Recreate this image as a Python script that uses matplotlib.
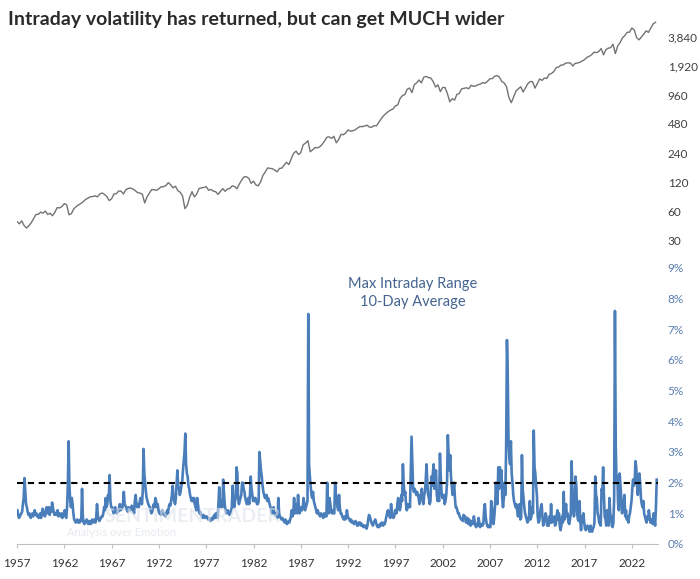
import numpy as np
import matplotlib
matplotlib.use("Agg")
import matplotlib.pyplot as plt

plt.rcParams['font.family'] = ['Lato', 'DejaVu Sans']

title = "Intraday volatility has returned, but can get MUCH wider"

# S&P 500 quarter-end closes, starting with Dec 1956 close
sp500 = [
    46.7,
    44.1, 47.4, 42.4, 40.0,      # 1957
    42.1, 45.2, 50.0, 55.2,      # 1958
    55.4, 58.5, 56.9, 59.9,      # 1959
    55.3, 56.9, 53.5, 58.1,      # 1960
    65.1, 64.6, 66.7, 71.6,      # 1961
    69.6, 54.8, 56.3, 63.1,      # 1962
    66.6, 69.4, 71.7, 75.0,      # 1963
    79.0, 81.7, 84.2, 84.8,      # 1964
    86.2, 84.1, 90.0, 92.4,      # 1965
    89.2, 84.7, 77.0, 80.3,      # 1966
    90.2, 90.6, 96.7, 96.5,      # 1967
    90.2, 99.6, 102.7, 103.9,    # 1968
    101.5, 97.7, 93.1, 92.1,     # 1969
    89.6, 72.7, 84.3, 92.2,      # 1970
    100.3, 99.7, 98.3, 102.1,    # 1971
    107.2, 107.1, 110.6, 118.1,  # 1972
    112.0, 104.3, 108.4, 97.6,   # 1973
    94.0, 86.0, 63.5, 68.6,      # 1974
    83.4, 95.2, 83.9, 90.2,      # 1975
    102.8, 104.3, 105.2, 107.5,  # 1976
    98.4, 100.5, 96.5, 95.1,     # 1977
    89.2, 95.5, 102.5, 96.1,     # 1978
    101.6, 102.9, 109.3, 107.9,  # 1979
    102.1, 114.2, 125.5, 135.8,  # 1980
    136.0, 131.2, 116.2, 122.6,  # 1981
    112.0, 109.6, 120.4, 140.6,  # 1982
    153.0, 168.1, 166.1, 164.9,  # 1983
    159.2, 153.2, 166.1, 167.2,  # 1984
    180.7, 191.9, 182.1, 211.3,  # 1985
    238.9, 250.8, 231.3, 242.2,  # 1986
    291.7, 304.0, 321.8, 247.1,  # 1987
    258.9, 273.5, 271.9, 277.7,  # 1988
    294.9, 318.0, 349.2, 353.4,  # 1989
    339.9, 358.0, 306.1, 330.2,  # 1990
    375.2, 371.2, 387.9, 417.1,  # 1991
    403.7, 408.1, 417.8, 435.7,  # 1992
    451.7, 450.5, 458.9, 466.5,  # 1993
    445.8, 444.3, 462.7, 459.3,  # 1994
    500.7, 544.8, 584.4, 615.9,  # 1995
    645.5, 670.6, 687.3, 740.7,  # 1996
    757.1, 885.1, 947.3, 970.4,  # 1997
    1101.8, 1133.8, 1017.0, 1229.2,  # 1998
    1286.4, 1372.7, 1282.7, 1469.3,  # 1999
    1498.6, 1454.6, 1436.5, 1320.3,  # 2000
    1160.3, 1224.4, 1040.9, 1148.1,  # 2001
    1147.4, 989.8, 815.3, 879.8,     # 2002
    848.2, 974.5, 996.0, 1111.9,     # 2003
    1126.2, 1140.8, 1114.6, 1211.9,  # 2004
    1180.6, 1191.3, 1228.8, 1248.3,  # 2005
    1294.8, 1270.2, 1335.9, 1418.3,  # 2006
    1420.9, 1503.4, 1526.8, 1468.4,  # 2007
    1322.7, 1280.0, 1166.4, 903.3,   # 2008
    797.9, 919.3, 1057.1, 1115.1,    # 2009
    1169.4, 1030.7, 1141.2, 1257.6,  # 2010
    1325.8, 1320.6, 1131.4, 1257.6,  # 2011
    1408.5, 1362.2, 1440.7, 1426.2,  # 2012
    1569.2, 1606.3, 1681.6, 1848.4,  # 2013
    1872.3, 1960.2, 1972.3, 2058.9,  # 2014
    2067.9, 2063.1, 1920.0, 2043.9,  # 2015
    2059.7, 2098.9, 2168.3, 2238.8,  # 2016
    2362.7, 2423.4, 2519.4, 2673.6,  # 2017
    2640.9, 2718.4, 2914.0, 2506.9,  # 2018
    2834.4, 2941.8, 2976.7, 3230.8,  # 2019
    2584.6, 3100.3, 3363.0, 3756.1,  # 2020
    3972.9, 4297.5, 4307.5, 4766.2,  # 2021
    4530.4, 3785.4, 3585.6, 3839.5,  # 2022
    4109.3, 4450.4, 4288.1, 4769.8,  # 2023
    5254.4, 5460.5,                  # 2024
]
sp_start_year = 1957

# Max intraday range, 10-day average (%), monthly readings
vol_start_year = 1957
vol = [
    1.1, 0.95, 0.85, 0.9, 0.95, 1.0, 1.05, 1.3, 1.5, 2.15, 1.7, 1.3,   # 1957
    1.2, 1.05, 0.95, 1.0, 0.9, 0.85, 0.95, 1.0, 0.9, 0.95, 1.1, 0.95,  # 1958
    1.0, 0.9, 0.95, 0.85, 0.9, 1.0, 0.85, 1.0, 1.15, 0.95, 1.0, 0.9,   # 1959
    1.1, 1.2, 1.0, 1.05, 1.2, 0.95, 1.15, 1.05, 1.35, 1.2, 1.05, 0.95, # 1960
    1.0, 0.95, 1.05, 1.1, 0.9, 1.0, 0.95, 0.9, 1.0, 0.85, 0.95, 1.0,   # 1961
    1.1, 0.9, 0.85, 1.2, 1.9, 3.35, 1.9, 1.4, 1.2, 1.5, 1.3, 1.0,      # 1962
    0.8, 0.75, 0.7, 0.75, 0.8, 0.7, 0.75, 0.7, 0.8, 0.75, 1.8, 0.9,    # 1963
    0.7, 0.65, 0.7, 0.75, 0.8, 0.7, 0.65, 0.75, 0.7, 0.65, 0.75, 0.8,  # 1964
    0.7, 0.75, 0.8, 0.7, 0.85, 1.3, 0.95, 0.8, 0.75, 0.8, 0.85, 0.9,   # 1965
    0.9, 1.0, 1.2, 1.1, 1.5, 1.2, 1.3, 1.6, 1.5, 2.25, 1.4, 1.2,       # 1966
    1.2, 1.1, 1.0, 1.1, 1.2, 1.05, 1.0, 1.1, 1.05, 1.2, 1.3, 1.1,      # 1967
    1.2, 1.15, 1.35, 1.7, 1.3, 1.25, 1.2, 1.1, 1.05, 1.2, 1.15, 1.1,   # 1968
    1.1, 1.25, 1.2, 1.1, 1.0, 1.4, 1.6, 1.3, 1.2, 1.3, 1.2, 1.35,      # 1969
    1.5, 1.4, 1.3, 1.7, 3.1, 2.3, 2.0, 1.7, 1.5, 1.4, 1.3, 1.25,       # 1970
    1.2, 1.1, 1.0, 1.05, 1.2, 1.3, 1.2, 1.5, 1.4, 1.2, 1.3, 1.1,       # 1971
    1.0, 1.05, 0.95, 1.0, 1.1, 1.0, 0.95, 1.0, 0.9, 1.0, 1.1, 1.0,     # 1972
    1.2, 1.3, 1.25, 1.4, 1.6, 1.9, 1.5, 1.4, 1.3, 1.5, 2.0, 2.4,       # 1973
    1.9, 1.8, 1.6, 1.7, 1.9, 2.0, 2.4, 2.7, 3.0, 3.6, 2.6, 2.3,        # 1974
    2.2, 1.9, 1.8, 1.6, 1.5, 1.4, 1.5, 1.4, 1.5, 1.3, 1.2, 1.1,        # 1975
    1.5, 1.3, 1.1, 1.0, 1.05, 0.95, 0.9, 0.85, 0.95, 0.9, 0.85, 0.9,   # 1976
    0.9, 0.85, 0.8, 0.85, 0.8, 0.75, 0.8, 0.85, 0.8, 0.9, 0.95, 0.85,  # 1977
    1.0, 0.9, 0.85, 1.3, 1.85, 1.3, 1.2, 1.4, 1.2, 2.1, 1.7, 1.3,      # 1978
    1.1, 1.0, 1.05, 1.1, 1.0, 0.95, 1.0, 1.1, 1.2, 1.9, 1.4, 1.2,      # 1979
    1.4, 1.5, 2.5, 2.3, 1.5, 1.3, 1.4, 1.5, 1.6, 2.0, 2.0, 1.8,        # 1980
    1.7, 1.5, 1.4, 1.3, 1.4, 1.5, 1.3, 1.6, 2.2, 1.8, 1.6, 1.4,        # 1981
    1.5, 1.4, 1.5, 1.4, 1.3, 1.3, 1.4, 3.0, 2.7, 2.4, 2.2, 1.9,        # 1982
    1.7, 1.6, 1.5, 1.5, 1.6, 1.4, 1.5, 1.4, 1.3, 1.2, 1.1, 1.0,        # 1983
    1.1, 1.2, 1.0, 0.95, 1.0, 0.9, 0.85, 1.5, 1.0, 0.9, 0.85, 0.8,     # 1984
    0.85, 0.8, 0.75, 0.7, 0.8, 0.7, 0.65, 0.7, 0.75, 0.7, 0.8, 0.9,    # 1985
    1.1, 0.9, 1.0, 1.5, 1.0, 1.1, 1.3, 1.0, 1.6, 1.2, 1.0, 1.1,        # 1986
    1.2, 1.1, 1.2, 1.5, 1.3, 1.1, 1.2, 1.3, 1.4, 7.5, 2.6, 2.2,        # 1987
    1.9, 1.6, 1.5, 1.7, 1.4, 1.3, 1.2, 1.1, 1.0, 1.1, 1.0, 0.95,       # 1988
    0.9, 1.0, 0.95, 0.9, 0.85, 1.0, 0.9, 0.95, 0.9, 2.0, 1.2, 1.0,     # 1989
    1.5, 1.3, 1.1, 1.0, 1.1, 1.0, 1.0, 2.0, 1.6, 1.5, 1.2, 1.1,        # 1990
    1.6, 1.2, 1.0, 1.0, 0.9, 0.85, 0.8, 0.9, 0.8, 0.85, 1.1, 0.9,      # 1991
    0.85, 0.8, 0.75, 0.8, 0.7, 0.75, 0.7, 0.65, 0.7, 0.75, 0.7, 0.6,   # 1992
    0.6, 0.7, 0.65, 0.7, 0.6, 0.65, 0.6, 0.55, 0.6, 0.55, 0.6, 0.5,    # 1993
    0.6, 0.8, 0.95, 0.9, 0.8, 0.7, 0.65, 0.6, 0.7, 0.75, 0.8, 0.7,     # 1994
    0.6, 0.55, 0.6, 0.55, 0.65, 0.6, 0.7, 0.65, 0.6, 0.7, 0.65, 0.75,  # 1995
    0.9, 1.0, 1.1, 0.95, 0.9, 0.85, 1.3, 1.0, 0.9, 0.85, 0.9, 1.1,     # 1996
    1.1, 1.0, 1.3, 1.5, 1.2, 1.1, 1.2, 1.6, 1.4, 2.6, 2.0, 1.6,        # 1997
    1.7, 1.3, 1.1, 1.3, 1.2, 1.3, 1.2, 2.3, 3.5, 2.6, 1.8, 1.7,        # 1998
    1.8, 1.7, 1.6, 1.7, 1.6, 1.5, 1.3, 1.6, 1.5, 1.8, 1.4, 1.3,        # 1999
    1.6, 1.7, 2.1, 2.6, 2.0, 1.6, 1.5, 1.3, 1.4, 2.2, 1.9, 2.3,        # 2000
    2.6, 1.8, 2.2, 2.4, 1.6, 1.4, 1.5, 1.4, 2.95, 2.2, 1.7, 1.5,       # 2001
    1.5, 1.6, 1.3, 1.4, 1.6, 2.0, 3.55, 2.9, 2.4, 2.9, 2.2, 1.9,       # 2002
    1.6, 1.7, 2.0, 1.5, 1.2, 1.2, 1.1, 1.0, 1.0, 0.9, 0.85, 0.8,       # 2003
    0.8, 0.75, 0.95, 0.85, 0.9, 0.7, 0.8, 0.85, 0.65, 0.8, 0.7, 0.6,   # 2004
    0.75, 0.7, 0.65, 0.9, 0.75, 0.6, 0.55, 0.65, 0.6, 0.85, 0.7, 0.55, # 2005
    0.6, 0.65, 0.6, 0.65, 1.1, 1.3, 0.9, 0.7, 0.6, 0.55, 0.6, 0.55,    # 2006
    0.55, 1.4, 1.2, 0.7, 0.65, 0.9, 1.3, 2.0, 1.5, 1.3, 2.5, 1.8,      # 2007
    2.5, 1.9, 2.4, 1.5, 1.2, 1.5, 2.0, 1.6, 3.2, 6.65, 5.5, 3.4,       # 2008
    2.8, 2.6, 3.35, 2.3, 2.0, 1.6, 1.4, 1.3, 1.2, 1.3, 1.1, 0.9,       # 2009
    1.2, 1.3, 0.8, 0.85, 2.9, 1.8, 1.5, 1.2, 1.0, 0.9, 0.8, 0.7,       # 2010
    0.75, 0.9, 1.4, 0.8, 0.9, 1.2, 1.0, 3.7, 2.5, 2.3, 1.9, 1.6,       # 2011
    0.9, 0.7, 0.75, 1.0, 1.2, 1.3, 0.9, 0.6, 0.7, 0.8, 1.0, 0.9,       # 2012
    0.6, 0.7, 0.6, 0.9, 0.7, 1.3, 0.7, 0.8, 0.75, 0.9, 0.6, 0.65,      # 2013
    0.9, 1.1, 0.8, 1.0, 0.6, 0.45, 0.6, 0.9, 0.7, 1.7, 0.8, 1.1,       # 2014
    1.3, 0.9, 1.0, 0.7, 0.65, 0.8, 1.0, 2.7, 1.8, 1.2, 0.9, 1.3,       # 2015
    2.2, 1.9, 1.0, 0.8, 0.75, 1.4, 0.8, 0.45, 0.9, 0.7, 1.0, 0.7,      # 2016
    0.5, 0.45, 0.55, 0.6, 0.5, 0.55, 0.4, 0.6, 0.45, 0.4, 0.5, 0.55,   # 2017
    0.7, 2.2, 1.6, 1.5, 1.0, 0.9, 0.7, 0.65, 0.6, 1.8, 1.7, 2.5,       # 2018
    1.6, 0.9, 0.8, 0.6, 1.1, 1.0, 0.6, 1.5, 1.0, 0.9, 0.6, 0.55,       # 2019
    0.7, 1.5, 7.6, 3.2, 2.0, 2.2, 1.3, 1.1, 2.3, 1.9, 1.5, 1.0,        # 2020
    1.2, 1.3, 1.6, 0.9, 1.1, 0.8, 0.9, 0.7, 0.9, 1.0, 1.2, 1.4,        # 2021
    1.8, 2.1, 1.9, 2.0, 2.7, 2.5, 2.0, 1.6, 2.2, 2.3, 2.0, 1.5,        # 2022
    1.3, 1.2, 1.4, 1.0, 0.9, 0.8, 0.7, 0.9, 0.8, 1.1, 0.9, 0.7,        # 2023
    0.8, 0.7, 0.65, 1.0, 0.75, 0.6, 1.2, 2.1,                          # 2024
]

threshold = 2.0
year_ticks = list(range(1957, 2023, 5))
sp_ticks = [30, 60, 120, 240, 480, 960, 1920, 3840]
sp_tick_labels = ["30", "60", "120", "240", "480", "960", "1,920", "3,840"]
pct_ticks = list(range(0, 10))
pct_labels = [f"{v}%" for v in pct_ticks]

W, H = 700, 579
fig = plt.figure(figsize=(W / 100, H / 100), dpi=100)

x0_px, x1_px = 17, 658
px_per_year = 9.46
xmin = 1957.0
xmax = xmin + (x1_px - x0_px) / px_per_year

def ax_rect(top_px, bottom_px):
    return [x0_px / W, 1 - bottom_px / H, (x1_px - x0_px) / W, (bottom_px - top_px) / H]

# ---- Top panel: S&P 500 (log)
ax1 = fig.add_axes(ax_rect(15, 250))
sp_t = sp_start_year + 0.25 * np.arange(len(sp500))
ax1.plot(sp_t, sp500, color='#737373', lw=1.0)
ax1.set_yscale('log')
ppd = 29.0  # pixels per doubling
ax1.set_ylim(30 * 2 ** (-(250 - 240) / ppd), 3840 * 2 ** ((37 - 15) / ppd))
ax1.set_xlim(xmin, xmax)
for s in ax1.spines.values():
    s.set_visible(False)
ax1.set_xticks([])
ax1.yaxis.tick_right()
ax1.set_yticks(sp_ticks)
ax1.set_yticklabels(sp_tick_labels)
ax1.yaxis.set_minor_locator(matplotlib.ticker.NullLocator())
ax1.tick_params(axis='y', length=0, pad=7, labelsize=8.5, labelcolor='#404040')
ax1.text(285, 79, "S&P 500", transform=None, fontsize=11, color='#333333')

# ---- Bottom panel: volatility
ax2 = fig.add_axes(ax_rect(268, 544))
vol_t = vol_start_year + (np.arange(len(vol)) + 0.5) / 12.0
ax2.plot(vol_t, vol, color='#4a7ebb', lw=1.9, zorder=3)
ax2.axhline(threshold, color='black', lw=1.5, ls=(0, (3, 2.2)), zorder=4)
ax2.set_ylim(0, 9)
ax2.set_xlim(xmin, xmax)
for k in ['top', 'right', 'left']:
    ax2.spines[k].set_visible(False)
ax2.spines['bottom'].set_color('#c0c0c0')
ax2.yaxis.tick_right()
ax2.set_yticks(pct_ticks)
ax2.set_yticklabels(pct_labels)
ax2.tick_params(axis='y', length=0, pad=7, labelsize=8.5, labelcolor='#5b7eae')
ax2.set_xticks(year_ticks)
ax2.set_xticklabels([str(y) for y in year_ticks])
ax2.tick_params(axis='x', length=3, color='#c0c0c0', pad=7, labelsize=8.5, labelcolor='#333333')

fig.text(413 / W, 1 - 284 / H, "Max Intraday Range", ha='center', va='center',
         fontsize=10.5, color='#44648f')
fig.text(413 / W, 1 - 302 / H, "10-Day Average", ha='center', va='center',
         fontsize=10.5, color='#44648f')

# faint watermark
fig.text(105 / W, 1 - 516 / H, "SENTIMENTRADER", ha='left', va='center',
         fontsize=14, color='#dde2e8', alpha=0.6, fontweight='bold', zorder=0)
fig.text(67 / W, 1 - 532 / H, "Analysis over Emotion", ha='left', va='center',
         fontsize=8, color='#dde2e8', alpha=0.7, zorder=0)

# Title
fig.text(8 / W, 1 - 19 / H, title, ha='left', va='center', fontsize=14,
         fontweight='bold', color='#2b2b2b')

fig.savefig("out.png", dpi=100)
